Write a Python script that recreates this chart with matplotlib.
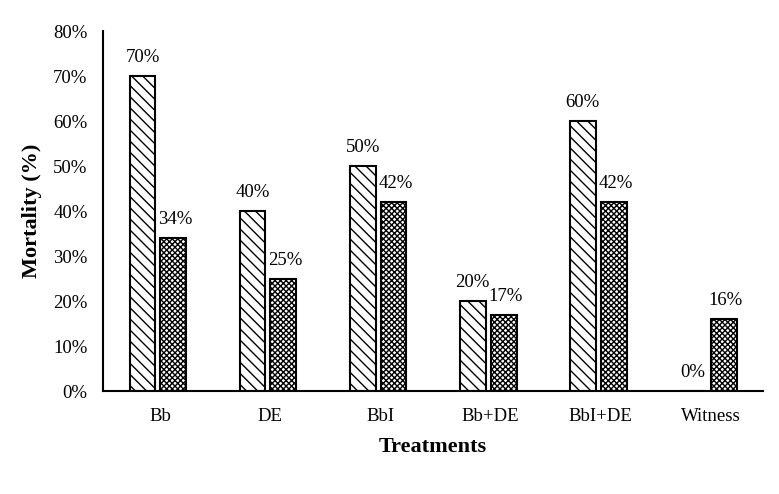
import matplotlib.pyplot as plt
import numpy as np

treatments = ['Bb', 'DE', 'BbI', 'Bb+DE', 'BbI+DE', 'Witness']
series_a = [70, 40, 50, 20, 60, 0]
series_b = [34, 25, 42, 17, 42, 16]

plt.rcParams['font.family'] = ['Liberation Serif', 'DejaVu Serif']
plt.rcParams['hatch.linewidth'] = 1.0

fig = plt.figure(figsize=(7.79, 4.94), dpi=100)
ax = fig.add_axes([0.132, 0.2085, 0.848, 0.7285])

x = np.arange(len(treatments))
w = 0.235
off = 0.14
bars_a = ax.bar(x - off, series_a, w, color='white', edgecolor='black', linewidth=1.5, hatch='\\\\\\')
bars_b = ax.bar(x + off, series_b, w, color='white', edgecolor='black', linewidth=1.5, hatch='xxxxxx')

for b, v in zip(bars_a, series_a):
    ax.annotate(f'{v}%', (b.get_x() + b.get_width() / 2, v), xytext=(0, 7),
                textcoords='offset points', ha='center', va='bottom', fontsize=13.5)
for b, v in zip(bars_b, series_b):
    ax.annotate(f'{v}%', (b.get_x() + b.get_width() / 2 + 0.02, v), xytext=(0, 7),
                textcoords='offset points', ha='center', va='bottom', fontsize=13.5)

ax.set_xlim(-0.5, 5.5)
ax.set_ylim(0, 80)
ax.set_yticks(range(0, 81, 10))
ax.set_yticklabels([f'{t}%' for t in range(0, 81, 10)])
ax.set_xticks(x + 0.02)
ax.set_xticklabels(treatments)
ax.tick_params(length=0, labelsize=13.5)
ax.tick_params(axis='x', pad=12)
ax.tick_params(axis='y', pad=11)
for s in ['top', 'right']:
    ax.spines[s].set_visible(False)
ax.spines['left'].set_linewidth(1.5)
ax.spines['bottom'].set_linewidth(1.5)
ax.set_xlabel('Treatments', fontsize=16, fontweight='bold', labelpad=9)
ax.set_ylabel('Mortality (%)', fontsize=16, fontweight='bold', labelpad=8)

fig.savefig('out.png', dpi=100)
